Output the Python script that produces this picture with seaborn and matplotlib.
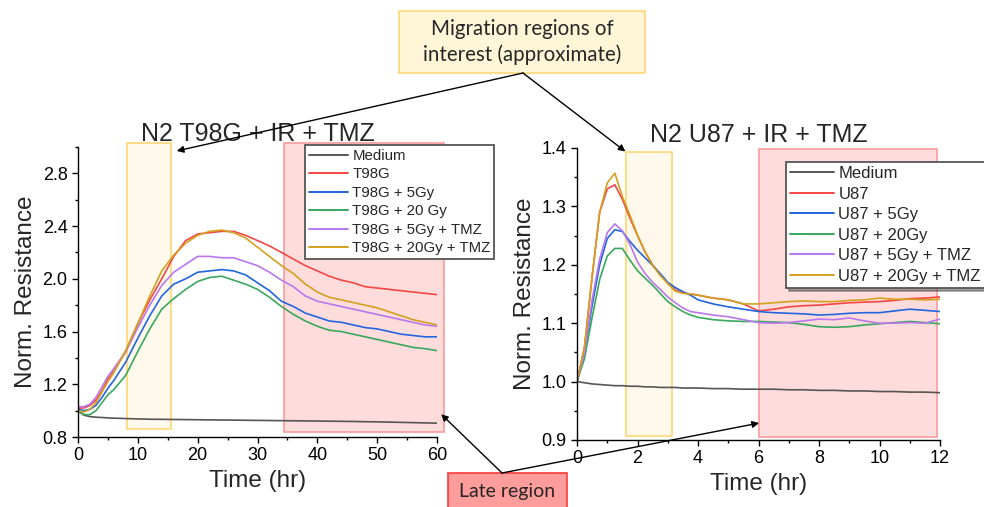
import numpy as np
import pandas as pd
import matplotlib
matplotlib.use("Agg")
import matplotlib.pyplot as plt
import seaborn as sns
from matplotlib.patches import Rectangle, ConnectionPatch
from matplotlib.ticker import MultipleLocator, FormatStrFormatter

# ---------------- data ----------------
series_left = ["Medium", "T98G", "T98G + 5Gy", "T98G + 20 Gy",
               "T98G + 5Gy + TMZ", "T98G + 20Gy + TMZ"]
series_right = ["Medium", "U87", "U87 + 5Gy", "U87 + 20Gy",
                "U87 + 5Gy + TMZ", "U87 + 20Gy + TMZ"]
colors = ["#555555", "#f54646", "#2266dd", "#38a85e", "#b878ec", "#d4a020"]

t_left = [0, 1, 2, 3, 4, 5, 6, 8, 10, 12, 14, 16, 18, 20, 22, 24, 26, 28, 30,
          32, 34, 36, 38, 40, 42, 44, 46, 48, 50, 52, 54, 56, 58, 60]
left_medium = [1.00, 0.965, 0.955, 0.950, 0.948, 0.945, 0.943, 0.940, 0.937, 0.935,
               0.934, 0.933, 0.932, 0.931, 0.930, 0.929, 0.928, 0.927, 0.926, 0.925,
               0.924, 0.923, 0.922, 0.921, 0.920, 0.919, 0.918, 0.916, 0.915, 0.913,
               0.911, 0.909, 0.907, 0.905]
left_t98g = [1.02, 1.02, 1.04, 1.08, 1.15, 1.24, 1.30, 1.45, 1.66, 1.84, 2.00, 2.17,
             2.29, 2.34, 2.35, 2.36, 2.36, 2.33, 2.29, 2.25, 2.20, 2.15, 2.10, 2.06,
             2.02, 1.99, 1.97, 1.94, 1.93, 1.92, 1.91, 1.90, 1.89, 1.88]
left_5gy = [1.01, 1.00, 1.01, 1.04, 1.10, 1.17, 1.23, 1.37, 1.55, 1.72, 1.87, 1.96,
            2.00, 2.05, 2.06, 2.07, 2.06, 2.03, 1.97, 1.91, 1.83, 1.79, 1.74, 1.71,
            1.68, 1.67, 1.65, 1.63, 1.62, 1.60, 1.58, 1.57, 1.56, 1.56]
left_20gy = [1.00, 0.97, 0.97, 1.00, 1.06, 1.12, 1.16, 1.27, 1.45, 1.62, 1.77, 1.85,
             1.92, 1.98, 2.01, 2.02, 1.99, 1.96, 1.92, 1.86, 1.79, 1.73, 1.68, 1.64,
             1.61, 1.60, 1.58, 1.56, 1.54, 1.52, 1.50, 1.48, 1.47, 1.455]
left_5gy_tmz = [1.03, 1.03, 1.05, 1.10, 1.18, 1.26, 1.32, 1.45, 1.63, 1.80, 1.95, 2.05,
                2.11, 2.17, 2.17, 2.16, 2.16, 2.13, 2.10, 2.05, 1.99, 1.94, 1.87, 1.83,
                1.81, 1.79, 1.77, 1.75, 1.73, 1.71, 1.69, 1.67, 1.65, 1.64]
left_20gy_tmz = [1.00, 0.99, 1.01, 1.06, 1.14, 1.22, 1.29, 1.46, 1.66, 1.87, 2.06, 2.18,
                 2.27, 2.33, 2.36, 2.37, 2.35, 2.31, 2.24, 2.17, 2.10, 2.04, 1.96, 1.90,
                 1.86, 1.84, 1.82, 1.80, 1.78, 1.75, 1.72, 1.69, 1.67, 1.65]

t_right = [0, 0.25, 0.5, 0.75, 1.0, 1.25, 1.5, 1.75, 2.0, 2.25, 2.5, 2.75, 3.0, 3.25,
           3.5, 3.75, 4.0, 4.5, 5.0, 5.5, 6.0, 6.5, 7.0, 7.5, 8.0, 8.5, 9.0, 9.5,
           10.0, 10.5, 11.0, 11.5, 12.0]
right_medium = [1.000, 0.998, 0.996, 0.995, 0.994, 0.993, 0.993, 0.992, 0.992, 0.991,
                0.991, 0.990, 0.990, 0.990, 0.989, 0.989, 0.989, 0.988, 0.988, 0.987,
                0.987, 0.987, 0.986, 0.986, 0.985, 0.985, 0.984, 0.984, 0.983, 0.983,
                0.982, 0.982, 0.981]
right_u87 = [1.00, 1.06, 1.18, 1.29, 1.33, 1.337, 1.312, 1.28, 1.25, 1.222, 1.20, 1.183,
             1.168, 1.157, 1.152, 1.150, 1.148, 1.143, 1.140, 1.133, 1.121, 1.124, 1.128,
             1.130, 1.131, 1.133, 1.135, 1.136, 1.137, 1.139, 1.142, 1.143, 1.145]
right_5gy = [1.00, 1.05, 1.13, 1.20, 1.245, 1.26, 1.257, 1.240, 1.225, 1.212, 1.199,
             1.185, 1.170, 1.161, 1.154, 1.148, 1.140, 1.133, 1.128, 1.124, 1.120, 1.118,
             1.117, 1.116, 1.114, 1.115, 1.117, 1.118, 1.118, 1.121, 1.124, 1.122, 1.120]
right_20gy = [1.00, 1.04, 1.11, 1.175, 1.215, 1.228, 1.228, 1.208, 1.19, 1.177, 1.165,
              1.151, 1.137, 1.128, 1.120, 1.114, 1.110, 1.106, 1.104, 1.103, 1.103, 1.102,
              1.101, 1.098, 1.094, 1.093, 1.094, 1.097, 1.099, 1.101, 1.103, 1.101, 1.099]
right_5gy_tmz = [1.00, 1.05, 1.14, 1.21, 1.255, 1.27, 1.258, 1.235, 1.205, 1.185, 1.170,
                 1.158, 1.145, 1.135, 1.126, 1.120, 1.118, 1.114, 1.111, 1.106, 1.101,
                 1.100, 1.101, 1.104, 1.107, 1.106, 1.109, 1.104, 1.100, 1.100, 1.101,
                 1.100, 1.107]
right_20gy_tmz = [1.00, 1.06, 1.18, 1.29, 1.34, 1.357, 1.317, 1.285, 1.251, 1.222, 1.199,
                  1.182, 1.168, 1.155, 1.151, 1.150, 1.148, 1.143, 1.140, 1.133, 1.133,
                  1.135, 1.137, 1.138, 1.137, 1.137, 1.139, 1.140, 1.143, 1.141, 1.141,
                  1.140, 1.141]

left_values = [left_medium, left_t98g, left_5gy, left_20gy, left_5gy_tmz, left_20gy_tmz]
right_values = [right_medium, right_u87, right_5gy, right_20gy, right_5gy_tmz, right_20gy_tmz]

# ---------------- style ----------------
sns.set_style("ticks")
plt.rcParams["font.family"] = ["Liberation Sans", "DejaVu Sans"]

W, H = 984, 507
fig = plt.figure(figsize=(W / 100, H / 100), dpi=100)


def fx(x):
    return x / W


def fy(y):
    return 1 - y / H


axL = fig.add_axes([fx(78), fy(437), fx(437) - fx(78), fy(147) - fy(437)])
axR = fig.add_axes([fx(577), fy(440), fx(940) - fx(577), fy(148) - fy(440)])


def draw_panel(ax, t, values, names, title, xlim, ylim, xmaj, xmin, ymaj, ymin,
               yfmt, legend_anchor, legend_fs, spacing, shadow):
    df = pd.DataFrame({
        "Time": np.tile(np.asarray(t, dtype=float), len(names)),
        "value": np.concatenate([np.asarray(v, dtype=float) for v in values]),
        "series": np.repeat(names, len(t)),
    })
    sns.lineplot(data=df, x="Time", y="value", hue="series", hue_order=names,
                 palette=colors, linewidth=1.2, estimator=None, sort=False,
                 ax=ax, legend=True)
    leg = ax.get_legend()
    handles = leg.legend_handles
    leg.remove()
    for h in handles:
        h.set_linewidth(1.4)
    lg = ax.legend(handles, names, loc="upper left", bbox_to_anchor=legend_anchor,
                   bbox_transform=fig.transFigure, frameon=True, fancybox=False,
                   edgecolor="#555555", framealpha=1, fontsize=legend_fs,
                   handlelength=2.6, handletextpad=0.3, labelspacing=spacing,
                   borderpad=0.25, borderaxespad=0, shadow=shadow)
    lg.get_frame().set_linewidth(1.3)
    lg.set_zorder(10)

    ax.set_xlim(*xlim)
    ax.set_ylim(*ylim)
    ax.xaxis.set_major_locator(MultipleLocator(xmaj))
    ax.xaxis.set_minor_locator(MultipleLocator(xmin))
    ax.yaxis.set_major_locator(MultipleLocator(ymaj))
    ax.yaxis.set_minor_locator(MultipleLocator(ymin))
    ax.yaxis.set_major_formatter(FormatStrFormatter(yfmt))
    ax.tick_params(which="major", direction="out", length=4, width=1,
                   labelsize=13, color="black", labelcolor="black")
    ax.tick_params(which="minor", direction="out", length=2.5, width=1,
                   color="black")
    sns.despine(ax=ax)
    for s in ("left", "bottom"):
        ax.spines[s].set_linewidth(1.0)
        ax.spines[s].set_color("black")
    ax.set_xlabel("Time (hr)", fontsize=17.5)
    ax.set_ylabel("Norm. Resistance", fontsize=17.5, labelpad=4)
    ax.set_title(title, fontsize=18, pad=4)


draw_panel(axL, t_left, left_values, series_left, "N2 T98G + IR + TMZ",
           (0, 60), (0.8, 3.0), 10, 5, 0.4, 0.2, "%.1f",
           (fx(305), fy(145)), 10.8, 0.3, False)
draw_panel(axR, t_right, right_values, series_right, "N2 U87 + IR + TMZ",
           (0, 12), (0.9, 1.4), 2, 1, 0.1, 0.05, "%.1f",
           (fx(786), fy(162)), 12, 0.33, True)

# ---------------- regions of interest ----------------
yellow_fc, yellow_ec = "#fff9ec", "#fcd772"
red_fc, red_ec = "#ffdcdc", "#fa9c9c"
axL.add_patch(Rectangle((8.2, 0.86), 7.3, 2.17, fc=yellow_fc, ec=yellow_ec,
                        lw=1.2, zorder=0.5, clip_on=False))
axL.add_patch(Rectangle((34.4, 0.84), 26.8, 2.19, fc=red_fc, ec=red_ec,
                        lw=1.2, zorder=0.5, clip_on=False))
axR.add_patch(Rectangle((1.62, 0.907), 1.52, 0.486, fc=yellow_fc, ec=yellow_ec,
                        lw=1.2, zorder=0.5, clip_on=False))
axR.add_patch(Rectangle((6.02, 0.905), 5.88, 0.493, fc=red_fc, ec=red_ec,
                        lw=1.2, zorder=0.5, clip_on=False))

# ---------------- callouts ----------------
fig.add_artist(Rectangle((fx(399), fy(73)), fx(645) - fx(399), fy(11) - fy(73),
                         transform=fig.transFigure, fc="#fff6d8", ec="#f9d97c",
                         lw=1.2, zorder=3))
fig.text(fx(522), fy(42), "Migration regions of\ninterest (approximate)",
         ha="center", va="center", fontsize=14.8, family=["Lato", "DejaVu Sans"],
         linespacing=1.3, zorder=4)

fig.add_artist(Rectangle((fx(448), fy(512)), fx(567) - fx(448), fy(473) - fy(512),
                         transform=fig.transFigure, fc="#ff9c9c", ec="#ff3a3a",
                         lw=1.2, zorder=3))
fig.text(fx(507), fy(492), "Late region", ha="center", va="center", fontsize=14,
         family=["Lato", "DejaVu Sans"], zorder=4)

arrow_kw = dict(arrowstyle="-|>", color="black", lw=1.0, mutation_scale=10,
                shrinkA=0, shrinkB=0, zorder=5)
fig.add_artist(ConnectionPatch(xyA=(fx(523), fy(73)), coordsA=fig.transFigure,
                               xyB=(16.5, 2.97), coordsB=axL.transData, **arrow_kw))
fig.add_artist(ConnectionPatch(xyA=(fx(523), fy(73)), coordsA=fig.transFigure,
                               xyB=(1.6, 1.394), coordsB=axR.transData, **arrow_kw))
fig.add_artist(ConnectionPatch(xyA=(fx(502), fy(473)), coordsA=fig.transFigure,
                               xyB=(60.7, 0.973), coordsB=axL.transData, **arrow_kw))
fig.add_artist(ConnectionPatch(xyA=(fx(502), fy(473)), coordsA=fig.transFigure,
                               xyB=(6.02, 0.929), coordsB=axR.transData, **arrow_kw))

fig.savefig("out.png", dpi=100)
